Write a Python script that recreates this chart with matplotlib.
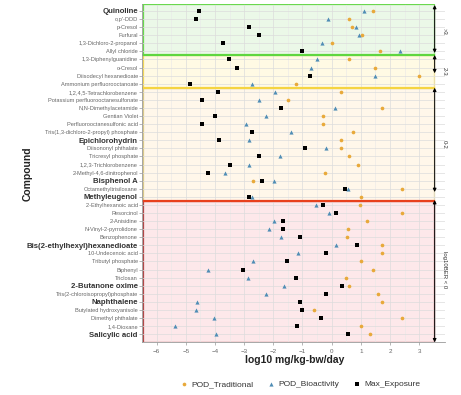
import matplotlib.pyplot as plt
import matplotlib.patches as mpatches
import numpy as np

plt.rcParams['font.family'] = ['Liberation Sans', 'DejaVu Sans']

compounds = [
    "Quinoline", "o,p'-DDD", "p-Cresol", "Furfural", "1,3-Dichloro-2-propanol",
    "Allyl chloride", "1,3-Diphenylguanidine", "o-Cresol", "Diisodecyl hexanedioate",
    "Ammonium perfluorooctanoate", "1,2,4,5-Tetrachlorobenzene",
    "Potassium perfluorooctanesulfonate", "N,N-Dimethylacetamide", "Gentian Violet",
    "Perfluorooctanesulfonic acid", "Tris(1,3-dichloro-2-propyl) phosphate",
    "Epichlorohydrin", "Diisononyl phthalate", "Tricresyl phosphate",
    "1,2,3-Trichlorobenzene", "2-Methyl-4,6-dinitrophenol", "Bisphenol A",
    "Octamethyltrisiloxane", "Methyleugenol", "2-Ethylhexanoic acid", "Resorcinol",
    "2-Anisidine", "N-Vinyl-2-pyrrolidone", "Benzophenone",
    "Bis(2-ethylhexyl)hexanedioate", "10-Undecenoic acid", "Tributyl phosphate",
    "Biphenyl", "Triclosan", "2-Butanone oxime", "Tris(2-chloroisopropyl)phosphate",
    "Naphthalene", "Butylated hydroxyanisole", "Dimethyl phthalate", "1,4-Dioxane",
    "Salicylic acid",
]
bold_names = ["Quinoline", "Epichlorohydrin", "Bisphenol A", "Methyleugenol",
              "Bis(2-ethylhexyl)hexanedioate", "2-Butanone oxime", "Naphthalene",
              "Salicylic acid"]

pod_traditional = [1.42, 0.61, 0.71, 1.05, 0.01, 1.66, 0.61, 1.50, 3.01, -1.21,
                   0.33, -1.50, 1.71, -0.30, -0.30, 0.72, 0.31, 0.31, 0.61, 0.91,
                   -0.22, -2.70, 2.42, 1.01, 0.97, 2.40, 1.21, 0.56, 0.51, 1.73,
                   1.73, 1.01, 1.43, 0.48, 0.61, 1.60, 1.71, -0.59, 2.41, 0.99, 1.30]
pod_bioactivity = [1.10, -0.12, 0.82, 0.94, -0.32, 2.34, -0.50, -0.71, 1.47, -2.74,
                   -1.95, -2.50, 0.10, -2.26, -2.95, -1.41, -2.82, -0.19, -1.77, -2.84,
                   -3.66, -1.96, 0.57, -2.74, -0.53, -0.10, -1.97, -2.15, -1.74, 0.14,
                   -1.15, -2.70, -4.23, -2.87, -1.64, -2.24, -4.60, -4.64, -4.03, -5.36, -3.98]
max_exposure = [-4.54, -4.64, -2.82, -2.48, -3.73, -1.00, -3.52, -3.24, -0.75, -4.85,
                -3.89, -4.45, -1.75, -4.00, -4.45, -2.73, -3.86, -0.92, -2.48, -3.49,
                -4.24, -2.37, 0.46, -2.83, -0.30, 0.16, -1.68, -1.66, -1.07, 0.86,
                -0.20, -1.52, -3.04, -1.23, 0.36, -0.20, -1.07, -1.01, -0.38, -1.18, 0.56]

# BER groups: label, first row, last row
groups = [(">3", 0, 5), ("2-3", 6, 9), ("0-2", 10, 23), ("log10BER < 0", 24, 40)]
group_fill = ["#ebf8e8", "#fffae4", "#fff7ea", "#fde8ea"]
group_edge = ["#6ad84e", "#f0d65a", "#d8c88a", "#b04848"]
arrow_span = [(-0.74, 5.2), (5.45, 7.7), (9.5, 22.4), (23.4, 41.0)]

x0, x1 = -6.48, 3.88
ylo, yhi = -0.87, 40.97
rect_right = 3.5

fig = plt.figure(figsize=(4.61, 3.95), dpi=100)
ax = fig.add_axes([0.308, 0.134, 0.657, 0.856])
ax.set_xlim(x0, x1)
ax.set_ylim(yhi, ylo)

y = np.arange(len(compounds))

# shaded regions
for i, (lab, a, b) in enumerate(groups):
    top = ylo if a == 0 else a - 0.5
    bot = yhi if b == len(compounds) - 1 else b + 0.5
    ax.add_patch(mpatches.Rectangle((x0, top), rect_right - x0, bot - top,
                                    facecolor=group_fill[i], edgecolor=group_edge[i],
                                    lw=0.9, zorder=1))
ax.plot([x0, rect_right], [ylo + 0.05, ylo + 0.05], color="#6ad84e", lw=1.3, zorder=2)
ax.plot([x0, rect_right], [5.5, 5.5], color="#5fd640", lw=1.6, zorder=2)
ax.plot([x0, rect_right], [9.5, 9.5], color="#f5d442", lw=1.6, zorder=2)
ax.plot([x0, rect_right], [23.5, 23.5], color="#e8401c", lw=1.6, zorder=2)

# grid
ax.set_xticks(range(-6, 4))
ax.set_xticks(np.arange(-6.5, 4, 1), minor=True)
ax.set_yticks(y)
ax.grid(True, which="major", color="#dcdcdc", lw=0.5)
ax.grid(True, which="minor", axis="x", color="#e8e8e8", lw=0.4)
for gl in ax.get_xgridlines() + ax.get_ygridlines():
    gl.set_zorder(1.5)

ax.scatter(pod_traditional, y, marker="o", s=7, color="#e8a93a", label="POD_Traditional", zorder=3, linewidths=0)
ax.scatter(pod_bioactivity, y, marker="^", s=9, color="#4f8db5", label="POD_Bioactivity", zorder=3, linewidths=0)
ax.scatter(max_exposure, y, marker="s", s=7, color="black", label="Max_Exposure", zorder=3, linewidths=0)

# arrows and group labels on the right
for (lab, a, b), (s, e) in zip(groups, arrow_span):
    ax.annotate("", xy=(3.53, s), xytext=(3.53, e),
                arrowprops=dict(arrowstyle="<|-|>", color="black", lw=0.7,
                                mutation_scale=5, shrinkA=0, shrinkB=0),
                annotation_clip=False, zorder=4)
    ax.text(3.86, (a + b) / 2, lab, rotation=-90, ha="center", va="center",
            fontsize=4.3, color="#333333", clip_on=False)

ax.set_yticklabels(compounds)
for t in ax.get_yticklabels():
    if t.get_text() in bold_names:
        t.set_fontsize(5.6)
        t.set_fontweight("bold")
        t.set_color("#333333")
    else:
        t.set_fontsize(4.1)
        t.set_color("#666666")
ax.tick_params(axis="y", length=2, width=0.5, color="#999999", pad=1)
ax.tick_params(axis="x", length=2, width=0.5, color="#999999", labelsize=4.5,
               labelcolor="#666666", pad=3)
ax.tick_params(which="minor", length=0)

for sp in ["top", "right"]:
    ax.spines[sp].set_visible(False)
for sp in ["left", "bottom"]:
    ax.spines[sp].set_color("#999999")
    ax.spines[sp].set_linewidth(0.6)

fig.text(28 / 461, 1 - 174 / 395, "Compound", rotation=90, ha="center", va="center",
         fontsize=7.5, fontweight="bold", color="#222222")
fig.text(295 / 461, 1 - 360 / 395, "log10 mg/kg-bw/day", ha="center", va="center",
         fontsize=7.5, fontweight="bold", color="#222222")

fig.legend(loc="center", bbox_to_anchor=(300 / 461, 1 - 384 / 395), ncol=3,
           frameon=False, fontsize=6, handletextpad=0.4, columnspacing=1.6,
           handlelength=1.0, labelcolor="#333333")

fig.savefig("out.png", dpi=100)
